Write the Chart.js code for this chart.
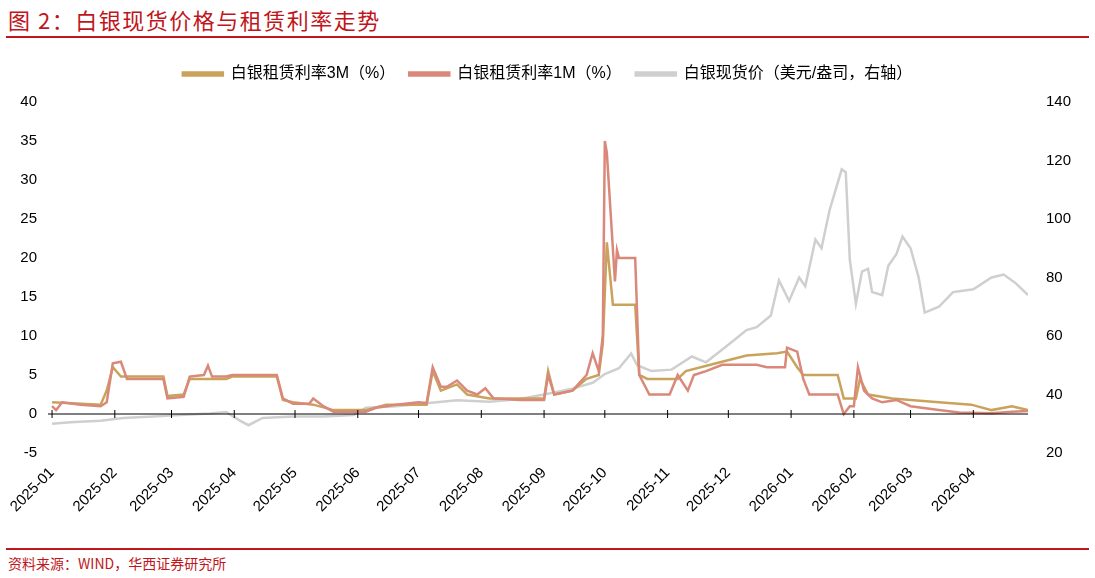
<!DOCTYPE html><html><head><meta charset="utf-8">
<script src="https://cdn.jsdelivr.net/npm/chart.js@4"></script>
<style>
body{margin:0;width:1095px;height:578px;background:#fff;font-family:"Liberation Sans","Noto Sans CJK SC",sans-serif;position:relative;overflow:hidden}
#t{position:absolute;left:8px;top:3px;font-size:22px;color:#c0151b;font-family:"Noto Sans CJK SC";letter-spacing:1.5px}
.ln{position:absolute;left:6px;width:1083px;height:2px;background:#c0151b}
#s{position:absolute;left:8px;top:553px;font-size:14px;color:#c0151b;font-family:"Noto Sans CJK SC"}
#w{position:absolute;left:0;top:52px;width:1095px;height:493px}
</style></head><body>
<div id="t">图 2：白银现货价格与租赁利率走势</div>
<div class="ln" style="top:36px"></div>
<div class="ln" style="top:548px;height:1.5px"></div>
<div id="s">资料来源：WIND，华西证券研究所</div>
<div id="w"><canvas id="c"></canvas></div>
<script>
const m1Dates=["2025-01-01","2025-01-03","2025-01-06","2025-01-15","2025-01-25","2025-01-28","2025-01-31","2025-02-04","2025-02-07","2025-02-25","2025-02-27","2025-03-07","2025-03-10","2025-03-17","2025-03-19","2025-03-21","2025-03-28","2025-03-31","2025-04-22","2025-04-25","2025-04-30","2025-05-08","2025-05-10","2025-05-15","2025-05-20","2025-06-05","2025-06-10","2025-06-20","2025-07-01","2025-07-05","2025-07-08","2025-07-12","2025-07-15","2025-07-20","2025-07-25","2025-07-30","2025-08-03","2025-08-07","2025-08-20","2025-09-01","2025-09-03","2025-09-06","2025-09-15","2025-09-22","2025-09-25","2025-09-28","2025-09-30","2025-10-01","2025-10-02","2025-10-06","2025-10-07","2025-10-08","2025-10-16","2025-10-18","2025-10-23","2025-11-02","2025-11-06","2025-11-11","2025-11-14","2025-11-20","2025-11-28","2025-12-15","2025-12-20","2025-12-29","2025-12-30","2026-01-04","2026-01-07","2026-01-10","2026-01-24","2026-01-27","2026-01-30","2026-02-01","2026-02-03","2026-02-06","2026-02-10","2026-02-15","2026-02-22","2026-03-01","2026-03-15","2026-03-25","2026-04-10","2026-04-20","2026-04-28"];
const m1Vals=[1.0,0.5,1.5,1.2,1.0,1.5,6.5,6.7,4.5,4.5,2.0,2.2,4.8,5.0,6.2,4.8,4.8,5.0,5.0,2.0,1.3,1.3,2.0,1.0,0.3,0.3,0.8,1.2,1.5,1.4,6.0,3.5,3.5,4.3,3.0,2.5,3.3,2.0,1.8,1.8,5.0,2.5,3.0,5.0,7.8,5.5,10,35,33.5,17,21,20,20,5,2.5,2.5,5.0,3.0,5.0,5.5,6.3,6.3,6.0,6.0,8.5,8.0,4.5,2.5,2.5,0.0,1.0,1.0,6.0,3.0,2.0,1.5,1.8,1.0,0.5,0.2,0.1,0.3,0.4];
const m3Dates=["2025-01-01","2025-01-25","2025-01-28","2025-01-31","2025-02-04","2025-02-25","2025-02-27","2025-03-07","2025-03-10","2025-03-28","2025-03-31","2025-04-22","2025-04-25","2025-04-30","2025-05-10","2025-05-20","2025-06-05","2025-06-15","2025-07-05","2025-07-08","2025-07-12","2025-07-20","2025-07-25","2025-08-05","2025-09-01","2025-09-03","2025-09-06","2025-09-15","2025-09-22","2025-09-28","2025-09-30","2025-10-02","2025-10-05","2025-10-16","2025-10-18","2025-10-22","2025-11-06","2025-11-10","2025-11-25","2025-12-10","2025-12-25","2025-12-30","2026-01-04","2026-01-07","2026-01-24","2026-01-27","2026-02-02","2026-02-04","2026-02-08","2026-02-20","2026-03-01","2026-03-15","2026-03-31","2026-04-10","2026-04-20","2026-04-28"];
const m3Vals=[1.5,1.2,3.0,6.0,4.8,4.8,2.3,2.5,4.5,4.5,4.8,4.8,1.8,1.5,1.2,0.5,0.5,1.2,1.2,5.5,3.0,3.8,2.5,2.0,2.0,5.5,2.5,3.0,4.5,5.0,9,22,14,14,5,4.5,4.5,5.5,6.5,7.5,7.8,8.0,6.0,5.0,5.0,2.0,2.0,4.5,2.5,2.0,1.8,1.5,1.2,0.5,1.0,0.5];
const pxDates=["2025-01-01","2025-01-10","2025-01-25","2025-02-05","2025-02-20","2025-03-05","2025-03-20","2025-03-28","2025-04-04","2025-04-08","2025-04-15","2025-04-30","2025-05-15","2025-05-30","2025-06-05","2025-06-20","2025-07-05","2025-07-20","2025-08-05","2025-08-20","2025-09-01","2025-09-15","2025-09-25","2025-10-01","2025-10-08","2025-10-14","2025-10-17","2025-10-24","2025-11-03","2025-11-13","2025-11-20","2025-12-01","2025-12-10","2025-12-15","2025-12-22","2025-12-26","2025-12-31","2026-01-05","2026-01-08","2026-01-13","2026-01-16","2026-01-20","2026-01-26","2026-01-28","2026-01-30","2026-02-02","2026-02-05","2026-02-08","2026-02-10","2026-02-15","2026-02-18","2026-02-22","2026-02-25","2026-03-01","2026-03-05","2026-03-08","2026-03-15","2026-03-22","2026-04-01","2026-04-10","2026-04-16","2026-04-22","2026-04-28"];
const pxVals=[30,30.5,31,32,32.5,33,33.5,34,31,29.5,32,32.5,32.5,33,35.5,36,37,38,37.5,38.5,40,42,44,47,49,54,50,48,48.5,53,51,57,62,63,67,79,72,80,77,93,90,103,117,116,86,71,82,83,75,74,84,88,94,90,80,68,70,75,76,80,81,78,74];
const monthTicks=["2025-01","2025-02","2025-03","2025-04","2025-05","2025-06","2025-07","2025-08","2025-09","2025-10","2025-11","2025-12","2026-01","2026-02","2026-03","2026-04"];

const T0=Date.UTC(2025,0,1),DAY=864e5;
const dx=s=>{const p=s.split('-').map(Number);return (Date.UTC(p[0],p[1]-1,p[2]||1)-T0)/DAY;};
const pts=(d,v)=>d.map((s,i)=>({x:dx(s),y:v[i]}));
const tickPos=monthTicks.map(dx);
const F="'Liberation Sans','Noto Sans CJK SC',sans-serif";
const zeroLine={id:'z',afterDatasetsDraw(c){const x=c.scales.x,y=c.scales.y,ctx=c.ctx;const yy=y.getPixelForValue(0);ctx.save();ctx.strokeStyle='#000';ctx.lineWidth=1;ctx.beginPath();ctx.moveTo(c.chartArea.left,yy);ctx.lineTo(c.chartArea.right,yy);tickPos.forEach(t=>{const px=x.getPixelForValue(t);ctx.moveTo(px,yy-4);ctx.lineTo(px,yy+4);});ctx.stroke();ctx.restore();}};
new Chart(document.getElementById('c'),{type:'line',
data:{datasets:[
{label:'白银租赁利率3M（%）',data:pts(m3Dates,m3Vals),borderColor:'#c9a35c',backgroundColor:'#c9a35c',yAxisID:'y',order:2},
{label:'白银租赁利率1M（%）',data:pts(m1Dates,m1Vals),borderColor:'#d9887a',backgroundColor:'#d9887a',yAxisID:'y',order:1},
{label:'白银现货价（美元/盎司，右轴）',data:pts(pxDates,pxVals),borderColor:'#cfcfcf',backgroundColor:'#cfcfcf',yAxisID:'y1',order:3}]},
options:{animation:false,responsive:true,maintainAspectRatio:false,
elements:{point:{radius:0},line:{borderWidth:2.5,tension:0}},
layout:{padding:{top:0,right:0,left:0,bottom:0}},
plugins:{tooltip:{enabled:false},legend:{labels:{boxWidth:40,boxHeight:3,font:{size:16,family:F},color:'#000',padding:14,sort:(a,b)=>a.datasetIndex-b.datasetIndex},
 afterFit(){}}},
scales:{
x:{type:'linear',min:-2,max:482,grid:{display:false},border:{display:false},
 afterBuildTicks(s){s.ticks=tickPos.map(v=>({value:v}));},
 afterFit(s){s.height=92;},
 ticks:{autoSkip:false,minRotation:45,maxRotation:45,font:{size:15,family:F},color:'#000',callback:(v)=>monthTicks[tickPos.indexOf(v)]||''}},
y:{position:'left',min:-5,max:40,grid:{display:false},border:{display:false},afterFit(s){s.width=48;},
 ticks:{stepSize:5,font:{size:15,family:F},color:'#000'}},
y1:{position:'right',min:20,max:140,grid:{display:false},border:{display:false},afterFit(s){s.width=67;},
 ticks:{stepSize:20,font:{size:15,family:F},color:'#000',padding:10}}}},
plugins:[zeroLine,{id:'lp',beforeInit(c){const f=c.legend&&c.legend.fit;},afterInit(c){const L=c.legend;const o=L.fit;L.fit=function(){o.call(this);this.height+=10;};}}]});
</script></body></html>
